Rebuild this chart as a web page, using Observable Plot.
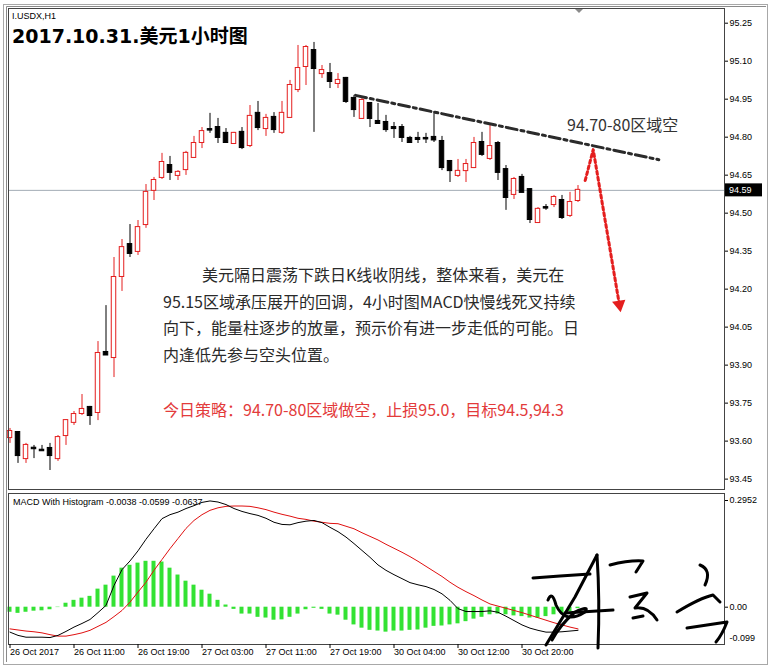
<!DOCTYPE html>
<html><head><meta charset="utf-8">
<script src="https://cdn.jsdelivr.net/npm/d3@7"></script>
<script src="https://cdn.jsdelivr.net/npm/@observablehq/plot@0.6"></script>
<style>
body{margin:0;background:#fff;}
#wrap{position:relative;width:771px;height:672px;overflow:hidden;background:#fff;}
#wrap svg{position:absolute;left:0;}
.t{position:absolute;white-space:nowrap;}
.para{font-family:"Noto Sans CJK SC",sans-serif;font-size:16px;line-height:16px;color:#2a2a2a;}
.small{font-family:"Liberation Sans",Arial,sans-serif;font-size:9px;line-height:9px;color:#000;}
</style></head><body><div id="wrap"></div>
<script>
// ---- USDX H1 candles (26 Oct 03:00 .. 31 Oct 03:00) ----
const open  = [93.614,93.634,93.531,93.572,93.564,93.571,93.531,93.622,93.674,93.709,93.733,93.713,
  93.950,93.930,94.250,94.376,94.349,94.455,94.590,94.641,94.688,94.649,94.672,94.720,
  94.779,94.830,94.838,94.815,94.775,94.819,94.767,94.894,94.834,94.878,94.819,94.878,
  94.988,95.079,95.142,95.051,95.051,95.012,95.032,94.953,94.874,94.933,94.862,94.858,
  94.838,94.838,94.795,94.795,94.795,94.799,94.783,94.704,94.649,94.668,94.680,94.779,
  94.716,94.775,94.672,94.574,94.641,94.593,94.463,94.522,94.534,94.550,94.491,94.550];
const high  = [93.650,93.638,93.591,93.583,93.583,93.591,93.622,93.685,93.717,93.784,93.737,93.993,
  94.135,94.325,94.396,94.455,94.471,94.613,94.641,94.736,94.724,94.668,94.744,94.803,
  94.838,94.894,94.874,94.834,94.819,94.838,94.925,94.941,94.890,94.897,94.941,95.024,
  95.162,95.162,95.174,95.083,95.091,95.051,95.036,94.965,94.953,94.937,94.933,94.886,
  94.858,94.850,94.803,94.819,94.815,94.901,94.803,94.708,94.712,94.712,94.799,94.819,
  94.854,94.783,94.688,94.641,94.653,94.597,94.522,94.534,94.570,94.570,94.582,94.609];
const low   = [93.591,93.512,93.512,93.531,93.561,93.484,93.520,93.583,93.662,93.701,93.662,93.681,
  93.938,93.851,94.191,94.325,94.333,94.440,94.550,94.633,94.629,94.629,94.649,94.716,
  94.755,94.815,94.775,94.775,94.771,94.751,94.759,94.826,94.803,94.815,94.811,94.876,
  94.976,95.004,94.819,95.032,94.992,94.992,94.933,94.878,94.870,94.838,94.852,94.819,
  94.795,94.779,94.777,94.775,94.775,94.779,94.668,94.621,94.641,94.621,94.676,94.724,
  94.708,94.629,94.511,94.554,94.580,94.459,94.459,94.511,94.522,94.475,94.483,94.542];
const close = [93.638,93.543,93.583,93.570,93.562,93.543,93.614,93.681,93.705,93.725,93.701,93.946,
  93.940,94.246,94.364,94.341,94.443,94.582,94.629,94.700,94.661,94.661,94.736,94.775,
  94.822,94.828,94.799,94.779,94.815,94.759,94.882,94.838,94.874,94.830,94.894,95.004,
  95.071,95.154,95.071,95.063,95.020,95.024,94.941,94.909,94.945,94.874,94.854,94.830,
  94.834,94.799,94.779,94.791,94.793,94.789,94.680,94.668,94.665,94.692,94.775,94.732,
  94.763,94.661,94.562,94.633,94.582,94.475,94.515,94.520,94.562,94.483,94.542,94.590];
// ---- MACD with histogram ----
const macdLine = [-0.069,-0.078,-0.083,-0.083,-0.083,-0.084,-0.078,-0.067,-0.055,-0.045,-0.034,-0.015,
  0.005,0.060,0.104,0.128,0.156,0.188,0.217,0.245,0.256,0.263,0.273,0.281,
  0.290,0.294,0.291,0.284,0.273,0.265,0.259,0.254,0.246,0.235,0.229,0.228,
  0.234,0.238,0.240,0.234,0.221,0.209,0.194,0.176,0.157,0.138,0.117,0.102,
  0.090,0.079,0.068,0.062,0.057,0.049,0.037,0.019,-0.004,-0.012,-0.012,-0.012,
  -0.010,-0.014,-0.025,-0.037,-0.049,-0.058,-0.064,-0.069,-0.069,-0.068,-0.066,-0.064];
const signalLine = [-0.060,-0.063,-0.066,-0.068,-0.071,-0.076,-0.080,-0.080,-0.076,-0.071,-0.064,-0.053,
  -0.042,-0.026,-0.009,0.014,0.042,0.069,0.102,0.132,0.162,0.190,0.218,0.240,
  0.256,0.268,0.275,0.279,0.280,0.280,0.279,0.275,0.270,0.263,0.257,0.252,
  0.246,0.243,0.238,0.235,0.232,0.231,0.224,0.217,0.206,0.196,0.186,0.174,
  0.163,0.152,0.140,0.127,0.113,0.099,0.085,0.069,0.055,0.043,0.032,0.020,
  0.009,0.003,-0.003,-0.009,-0.015,-0.022,-0.029,-0.036,-0.043,-0.049,-0.055,-0.060];
const histogram = [-0.014,-0.017,-0.014,-0.011,-0.010,-0.007,-0.001,0.011,0.019,0.025,0.030,0.050,
  0.061,0.086,0.108,0.116,0.122,0.127,0.127,0.125,0.108,0.089,0.072,0.061,
  0.047,0.036,0.019,0.006,-0.006,-0.019,-0.019,-0.028,-0.030,-0.036,-0.035,-0.028,
  -0.019,-0.007,-0.003,-0.006,-0.019,-0.022,-0.036,-0.049,-0.058,-0.064,-0.066,-0.069,
  -0.066,-0.066,-0.064,-0.063,-0.058,-0.053,-0.052,-0.049,-0.046,-0.040,-0.033,-0.028,
  -0.021,-0.019,-0.021,-0.024,-0.026,-0.030,-0.030,-0.026,-0.021,-0.017,-0.012,-0.004];
// ---- axes ----
const timeLabels = ["26 Oct 2017","26 Oct 11:00","26 Oct 19:00","27 Oct 03:00","27 Oct 11:00",
  "27 Oct 19:00","30 Oct 04:00","30 Oct 12:00","30 Oct 20:00"];
const barsPerLabel = 8;
const priceTicks = [93.45,93.60,93.75,93.90,94.05,94.20,94.35,94.50,94.65,94.80,94.95,95.10,95.25];
const lastPrice = 94.59;
const macdTicks = [0.2952, 0];
const macdTickLabels = ["0.2952", "0.00"];
const macdMin = -0.099;
// ---- annotations (bar index, price) ----
const trendX = [43.2, 81.1];
const trendY = [94.965, 94.711];
const arrowX = [71.9, 72.9, 76.17];
const arrowY = [94.629, 94.751, 94.139];

const RED = "#e41e1e";
const xDomain = [-0.1875, 89.3125];
const bars = close.map((c, i) => ({i, o: open[i], h: high[i], l: low[i], c, up: c > open[i]}));
const tickBars = timeLabels.map((_, j) => j * barsPerLabel);
const style = {fontFamily: "'Liberation Sans', Arial, sans-serif", fontSize: "9px", color: "#000", background: "transparent", overflow: "visible"};

const main = Plot.plot({
  width: 771, height: 490,
  marginLeft: 8, marginRight: 47, marginTop: 8, marginBottom: 1,
  x: {domain: xDomain, axis: null},
  y: {domain: [93.409, 95.308], axis: null},
  style,
  marks: [
    Plot.ruleY([lastPrice], {stroke: "#a3acb5", strokeWidth: 1}),
    Plot.ruleX(bars, {x: "i", y1: "l", y2: "h", stroke: d => d.up ? RED : "#000", strokeWidth: 1}),
    Plot.rect(bars, {x1: d => d.i - 0.28, x2: d => d.i + 0.28, y1: "o", y2: "c",
      fill: d => d.up ? "#fff" : "#000", stroke: d => d.up ? RED : "#000", strokeWidth: 1,
      insetTop: -0.5, insetBottom: -0.5}),
    Plot.line(trendX.map((x, j) => ({x, y: trendY[j]})), {x: "x", y: "y", stroke: "#2b2b2b", strokeWidth: 3, strokeDasharray: "11,4,3,4"}),
    Plot.line(arrowX.map((x, j) => ({x, y: arrowY[j]})), {x: "x", y: "y", stroke: RED, strokeWidth: 3, strokeDasharray: "3,3"}),
    Plot.dot([{x: arrowX[2], y: arrowY[2]}], {x: "x", y: "y", symbol: "triangle", r: 5, fill: RED, stroke: null, rotate: 170.5}),
    Plot.frame({stroke: "#444"}),
    Plot.axisY({anchor: "right", ticks: priceTicks, tickFormat: d3.format(".2f"), tickSize: 3, tickPadding: 2, label: null})
  ]
});
main.style.top = "0px";

const macdRows = macdLine.map((m, i) => ({i, m, s: signalLine[i], h: histogram[i]}));
const macd = Plot.plot({
  width: 771, height: 175,
  marginLeft: 8, marginRight: 47, marginTop: 3, marginBottom: 21,
  x: {domain: xDomain, axis: null},
  y: {domain: [-0.1032, 0.3146], axis: null},
  style,
  marks: [
    Plot.rect(macdRows, {x1: d => d.i - 0.25, x2: d => d.i + 0.25, y1: 0, y2: "h", fill: "#33e233"}),
    Plot.line(macdRows, {x: "i", y: "s", stroke: "#e01010", strokeWidth: 1}),
    Plot.line(macdRows, {x: "i", y: "m", stroke: "#000", strokeWidth: 1}),
    Plot.frame({stroke: "#444"}),
    Plot.axisY({anchor: "right", ticks: macdTicks, tickFormat: d => macdTickLabels[macdTicks.indexOf(d)], tickSize: 3, tickPadding: 2, label: null}),
    Plot.text([macdMin], {y: d => d, frameAnchor: "right", dx: 5, dy: -5, textAnchor: "start", text: d => String(d), fill: "#000"}),
    Plot.axisX({anchor: "bottom", ticks: tickBars, tickFormat: d => timeLabels[tickBars.indexOf(d)], textAnchor: "start", tickSize: 4, tickPadding: 0, label: null})
  ]
});
macd.style.top = "490px";

const wrap = document.getElementById("wrap");
wrap.appendChild(main);
wrap.appendChild(macd);

// last-price box on the price axis
const yp = main.scale("y").apply(lastPrice);
const sel = d3.select(main);
sel.append("rect").attr("x", 725).attr("y", yp - 6.5).attr("width", 37).attr("height", 13).attr("fill", "#000");
sel.append("text").attr("x", 729).attr("y", yp).attr("dy", "0.35em").attr("fill", "#fff")
  .attr("text-anchor", "start").attr("font-size", 9).text(d3.format(".2f")(lastPrice));

// text overlays
function addText(html, cls, left, top, extra) {
  const d = document.createElement("div");
  d.className = "t " + cls; d.style.left = left + "px"; d.style.top = top + "px";
  if (extra) Object.assign(d.style, extra);
  d.textContent = html; wrap.appendChild(d); return d;
}
addText("I.USDX,H1", "small", 12, 12);
addText("2017.10.31.美元1小时图", "", 12, 27, {fontFamily: "'DejaVu Sans','Noto Sans CJK SC',sans-serif", fontWeight: "bold", fontSize: "19px", lineHeight: "19px", color: "#000"});
addText("94.70-80区域空", "para", 567, 116, {color: "#333"});
addText("美元隔日震荡下跌日K线收阴线，整体来看，美元在", "para", 202, 266);
addText("95.15区域承压展开的回调，4小时图MACD快慢线死叉持续", "para", 163, 293);
addText("向下，能量柱逐步的放量，预示价有进一步走低的可能。日", "para", 163, 319);
addText("内逢低先参与空头位置。", "para", 163, 346);
addText("今日策略：94.70-80区域做空，止损95.0，目标94.5,94.3", "para", 163, 401, {color: "#e33b3b"});
addText("MACD With Histogram -0.0038 -0.0599 -0.0637", "small", 13, 498);

// window frame, chart-shift marker and handwritten signature (decoration)
const deco = d3.select(wrap).append("svg").attr("width", 771).attr("height", 672).style("top", "0px").style("pointer-events", "none");
deco.append("rect").attr("x", 3.5).attr("y", 4.5).attr("width", 764).attr("height", 660).attr("fill", "none").attr("stroke", "#a8a8a8");
deco.append("path").attr("d", "M6.5,662 V6.5 H766").attr("fill", "none").attr("stroke", "#8a8a8a");
deco.append("path").attr("d", "M575,9 L583,9 L579,13 Z").attr("fill", "#8a8a8a");
const sig = ["M533,578 L560,576 L590,574", "M546,645 L575,597 L597,555", "M597,555 Q600,600 598,648",
  "M548,600 Q552,590 556,605 Q565,625 585,612 Q590,605 575,612 Q560,625 552,640", "M565,613 L613,610",
  "M610,565 Q630,560 643,561 L636,572", "M630,597 L647,593 L635,608 Q648,606 657,620", "M633,618 L643,616",
  "M700,565 Q712,570 705,585", "M677,612 Q700,598 713,595 L720,602", "M687,628 L727,622 Q722,635 716,642"];
deco.selectAll("path.sig").data(sig).join("path").attr("class", "sig").attr("d", d => d)
  .attr("fill", "none").attr("stroke", "#000").attr("stroke-width", 3).attr("stroke-linecap", "round").attr("stroke-linejoin", "round");
</script></body></html>
